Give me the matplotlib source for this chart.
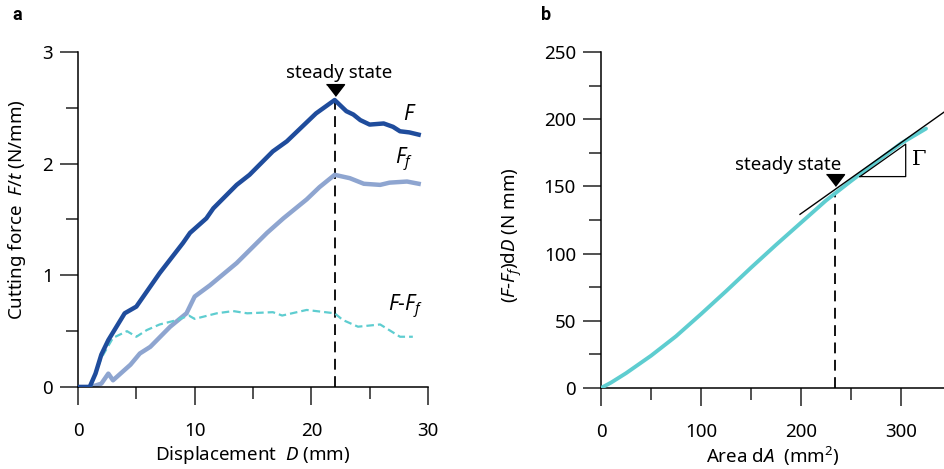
import numpy as np
import matplotlib
matplotlib.use("Agg")
import matplotlib.pyplot as plt

plt.rcParams['font.family'] = ['Noto Sans', 'DejaVu Sans']
plt.rcParams['mathtext.fontset'] = 'custom'
plt.rcParams['mathtext.rm'] = 'Noto Sans'
plt.rcParams['mathtext.it'] = 'Noto Sans:italic'
plt.rcParams['font.size'] = 13.5

# panel a: cutting force vs displacement
d_F = [0, 1.0, 1.5, 2.0, 2.6, 4.0, 5.0, 7.0, 9.0, 9.6, 11.0, 11.6, 13.6, 14.7,
       16.7, 17.9, 20.4, 22.0, 23.0, 23.6, 24.2, 25.0, 26.2, 27.0, 27.6, 28.4, 29.2]
F = [0, 0.0, 0.12, 0.29, 0.42, 0.66, 0.72, 1.02, 1.29, 1.38, 1.51, 1.60, 1.81, 1.90,
     2.11, 2.20, 2.45, 2.57, 2.47, 2.44, 2.39, 2.35, 2.36, 2.33, 2.29, 2.28, 2.26]

d_Ff = [0, 1.1, 2.0, 2.6, 3.0, 4.5, 5.3, 6.2, 7.9, 9.3, 10.0, 11.3, 13.6, 16.2,
        17.6, 19.6, 20.7, 22.0, 23.3, 24.5, 25.9, 26.7, 28.2, 29.2]
Ff = [0, 0.0, 0.03, 0.12, 0.06, 0.20, 0.30, 0.36, 0.54, 0.66, 0.81, 0.91, 1.11, 1.38,
      1.51, 1.68, 1.79, 1.90, 1.87, 1.82, 1.81, 1.83, 1.84, 1.82]

d_diff = [0, 1.1, 2.0, 3.0, 4.2, 5.0, 5.9, 7.0, 8.5, 9.5, 10.0, 11.9, 13.3, 14.5,
          16.7, 17.5, 19.6, 22.0, 22.7, 24.0, 25.9, 27.6, 28.7]
diff = [0, 0.0, 0.26, 0.44, 0.50, 0.45, 0.51, 0.56, 0.60, 0.64, 0.61, 0.66, 0.68, 0.66,
        0.67, 0.64, 0.69, 0.66, 0.60, 0.54, 0.56, 0.45, 0.45]

D_steady = 22.0

# panel b: work vs area
area = [0, 10, 25, 50, 75, 100, 125, 150, 175, 200, 225, 250, 275, 300, 325]
work = [0, 4, 11, 24, 38.5, 55, 72, 89.5, 106.5, 123, 139.5, 154, 168, 182, 193]
A_steady = 234
W_steady = 147.7
gamma = 0.528  # slope of tangent (N/mm)

c_F = '#1f4c9c'
c_Ff = '#8ea5d0'
c_diff = '#5ecdd0'

fig = plt.figure(figsize=(9.45, 4.69), dpi=100)
ax1 = fig.add_axes([78/945, 82/469, 350/945, 335/469])
ax2 = fig.add_axes([601/945, 81/469, 344/945, 336/469])

for ax in (ax1, ax2):
    ax.spines['top'].set_visible(False)
    ax.spines['right'].set_visible(False)
    ax.spines['left'].set_linewidth(1.1)
    ax.spines['bottom'].set_linewidth(1.1)
    ax.tick_params(which='major', direction='out', length=13, width=1.1, color='#222222')
    ax.tick_params(which='minor', direction='out', length=8.5, width=1.1, color='#222222')
    ax.tick_params(axis='x', which='major', pad=12)
    ax.tick_params(axis='y', which='major', pad=5)

# ---- panel a
ax1.plot(d_diff, diff, color=c_diff, lw=1.6, dashes=(3.4, 1.8), zorder=3)
ax1.plot(d_Ff, Ff, color=c_Ff, lw=3.2, solid_joinstyle='round', zorder=2)
ax1.plot(d_F, F, color=c_F, lw=3.2, solid_joinstyle='round', zorder=4)
ax1.plot([D_steady, D_steady], [0, 2.6], color='black', lw=1.3, dashes=(6, 3.6), zorder=1)
tri = [(-1, 0.65), (1, 0.65), (0, -0.65)]
ax1.plot([D_steady], [2.66], marker=tri, markersize=13, color='black', ls='none', zorder=5)
ax1.text(22.4, 2.81, 'steady state', ha='center', va='center')
ax1.text(27.9, 2.44, '$F$', ha='left', va='center', fontsize=15)
ax1.text(27.2, 2.03, '$F_f$', ha='left', va='center', fontsize=15)
ax1.text(26.6, 0.72, '$F$-$F_f$', ha='left', va='center', fontsize=15)

ax1.set_xlim(0, 30)
ax1.set_ylim(0, 3)
ax1.set_xticks([0, 10, 20, 30])
ax1.set_xticks([5, 15, 25], minor=True)
ax1.set_yticks([0, 1, 2, 3])
ax1.set_yticks([0.5, 1.5, 2.5], minor=True)
ax1.set_xlabel('Displacement  $D$ (mm)', labelpad=3)
ax1.set_ylabel('Cutting force  $F/t$ (N/mm)')
ax1.yaxis.set_label_coords(-0.143, 0.528)

# ---- panel b
ax2.plot(area, work, color=c_diff, lw=2.8, solid_capstyle='round', zorder=3)
tan_x = np.array([199, 350])
ax2.plot(tan_x, W_steady + gamma * (tan_x - A_steady), color='black', lw=1.0, zorder=4)
tx = [259, 304.7, 304.7, 259]
ty = [157.3, 157.3, 157.3 + gamma * (304.7 - 259), 157.3]
ax2.plot(tx, ty, color='black', lw=0.9, zorder=4)
ax2.text(311, 170, 'Γ', family='DejaVu Serif', ha='left', va='center', fontsize=15)
ax2.plot([A_steady, A_steady], [0, 146], color='black', lw=1.3, dashes=(6, 3.6), zorder=1)
ax2.plot([A_steady], [154.8], marker=tri, markersize=13, color='black', ls='none', zorder=5)
ax2.text(187, 166, 'steady state', ha='center', va='center')

ax2.set_xlim(0, 344)
ax2.set_ylim(0, 250)
ax2.set_xticks([0, 100, 200, 300])
ax2.set_xticks([50, 150, 250], minor=True)
ax2.set_yticks([0, 50, 100, 150, 200, 250])
ax2.set_yticks([25, 75, 125, 175, 225], minor=True)
ax2.set_xlabel('Area d$A$  (mm$^2$)', labelpad=3)
ax2.set_ylabel('($F$-$F_f$)d$D$ (N mm)')
ax2.yaxis.set_label_coords(-0.224, 0.455)

fig.text(12/945, 1 - 15/469, 'a', family='Roboto', fontweight='bold', fontsize=13,
         va='center', ha='left')
fig.text(541/945, 1 - 15/469, 'b', family='Roboto', fontweight='bold', fontsize=13,
         va='center', ha='left')

fig.savefig('out.png', dpi=100)
